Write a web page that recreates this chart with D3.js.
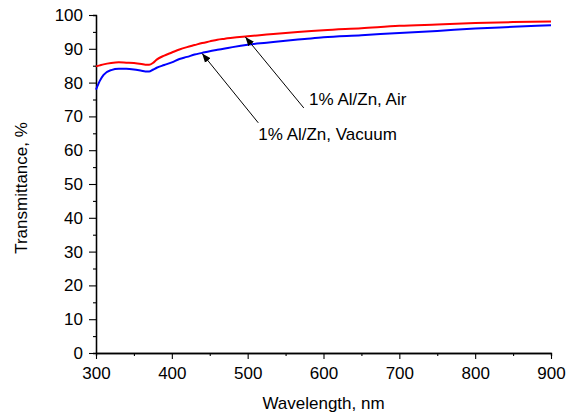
<!DOCTYPE html>
<html>
<head>
<meta charset="utf-8">
<script src="https://cdn.jsdelivr.net/npm/d3@7"></script>
<style>
  body { margin: 0; background: #fff; }
  text { font-family: Arial, "Liberation Sans", sans-serif; fill: #000; }
</style>
</head>
<body>
<div id="chart"></div>
<script>
// wavelengths (nm)
var wavelengths = [300, 305, 310, 320, 330, 340, 350, 360, 365, 370, 375, 380, 390, 400, 410, 420,
  430, 440, 450, 460, 470, 480, 500, 525, 550, 575, 600, 650, 700, 750, 800, 850, 900]
// transmittance, %
var airValues = [84.8, 85.1, 85.4, 85.8, 86.0, 85.9, 85.8, 85.5, 85.3, 85.3, 85.8, 86.8, 88.0, 88.9, 89.8, 90.5,
  91.1, 91.7, 92.2, 92.7, 93.0, 93.3, 93.7, 94.2, 94.7, 95.1, 95.5, 96.1, 96.8, 97.2, 97.6, 97.9, 98.1]
var vacuumValues = [77.9, 80.5, 82.3, 83.7, 84.1, 84.1, 83.9, 83.5, 83.3, 83.3, 83.8, 84.4, 85.2, 86.0, 87.0, 87.6,
  88.3, 88.8, 89.3, 89.7, 90.1, 90.5, 91.2, 91.8, 92.4, 92.9, 93.4, 94.0, 94.7, 95.3, 96.0, 96.5, 97.0]
var xTicks = [300, 400, 500, 600, 700, 800, 900]
var yTicks = [0, 10, 20, 30, 40, 50, 60, 70, 80, 90, 100]
var seriesNames = ["1% Al/Zn, Air", "1% Al/Zn, Vacuum"]

var W = 570, H = 416
var margin = {top: 15, right: 19, bottom: 63, left: 96}
var width = W - margin.left - margin.right,
    height = H - margin.top - margin.bottom

var svg = d3.select("#chart").append("svg")
  .attr("width", W).attr("height", H)
var g = svg.append("g")
  .attr("transform", "translate(" + margin.left + "," + margin.top + ")")

var x = d3.scaleLinear().domain([300, 900]).range([0, width])
var y = d3.scaleLinear().domain([0, 100]).range([height, 0])

// minor ticks
g.append("g")
  .attr("transform", "translate(0," + height + ")")
  .call(d3.axisBottom(x).tickValues(d3.range(350, 900, 100)).tickSize(3).tickFormat(""))
g.append("g")
  .call(d3.axisLeft(y).tickValues(d3.range(5, 100, 10)).tickSize(3).tickFormat(""))

// major axes
var xAxis = g.append("g")
  .attr("transform", "translate(0," + height + ")")
  .call(d3.axisBottom(x).tickValues(xTicks).tickSize(6).tickPadding(8).tickSizeOuter(0))
var yAxis = g.append("g")
  .call(d3.axisLeft(y).tickValues(yTicks).tickSize(7).tickPadding(6).tickSizeOuter(0))

g.selectAll(".domain").attr("stroke-width", 1.3)
g.selectAll(".tick line").attr("stroke-width", 1.1)
g.selectAll(".tick text").style("font-size", "17px").attr("fill", "#000")

// lines
var line = function(vals) {
  return d3.line()
    .x(function(d, i) { return x(wavelengths[i]) })
    .y(function(d) { return y(d) })
    .curve(d3.curveMonotoneX)(vals)
}
g.append("path").attr("d", line(vacuumValues))
  .attr("fill", "none").attr("stroke", "#0000ff").attr("stroke-width", 2)
g.append("path").attr("d", line(airValues))
  .attr("fill", "none").attr("stroke", "#ff0000").attr("stroke-width", 2)

// arrows
svg.append("defs").append("marker")
  .attr("id", "head")
  .attr("viewBox", "0 0 10 10")
  .attr("refX", 10).attr("refY", 5)
  .attr("markerWidth", 9).attr("markerHeight", 9)
  .attr("markerUnits", "userSpaceOnUse")
  .attr("orient", "auto")
  .append("path").attr("d", "M0,1 L10,5 L0,9 z").attr("fill", "#000")

var notes = [
  {name: seriesNames[0], tip: [497, 93.5], tail: [574, 72.5], text: [581, 73.4]},
  {name: seriesNames[1], tip: [440, 88.6], tail: [514, 68.1], text: [514, 63.0]}
]
notes.forEach(function(n) {
  g.append("line")
    .attr("x1", x(n.tail[0])).attr("y1", y(n.tail[1]))
    .attr("x2", x(n.tip[0])).attr("y2", y(n.tip[1]))
    .attr("stroke", "#000").attr("stroke-width", 1)
    .attr("marker-end", "url(#head)")
  g.append("text")
    .attr("x", x(n.text[0])).attr("y", y(n.text[1]))
    .attr("fill", "#000")
    .style("font-size", "17px")
    .text(n.name)
})

// axis titles
g.append("text")
  .attr("x", width / 2).attr("y", height + 56)
  .attr("text-anchor", "middle")
  .attr("fill", "#000")
  .style("font-size", "17px")
  .text("Wavelength, nm")
g.append("text")
  .attr("transform", "rotate(-90)")
  .attr("x", -height / 2 - 4).attr("y", -69)
  .attr("text-anchor", "middle")
  .attr("fill", "#000")
  .style("font-size", "17px")
  .text("Transmittance, %")
</script>
</body>
</html>
